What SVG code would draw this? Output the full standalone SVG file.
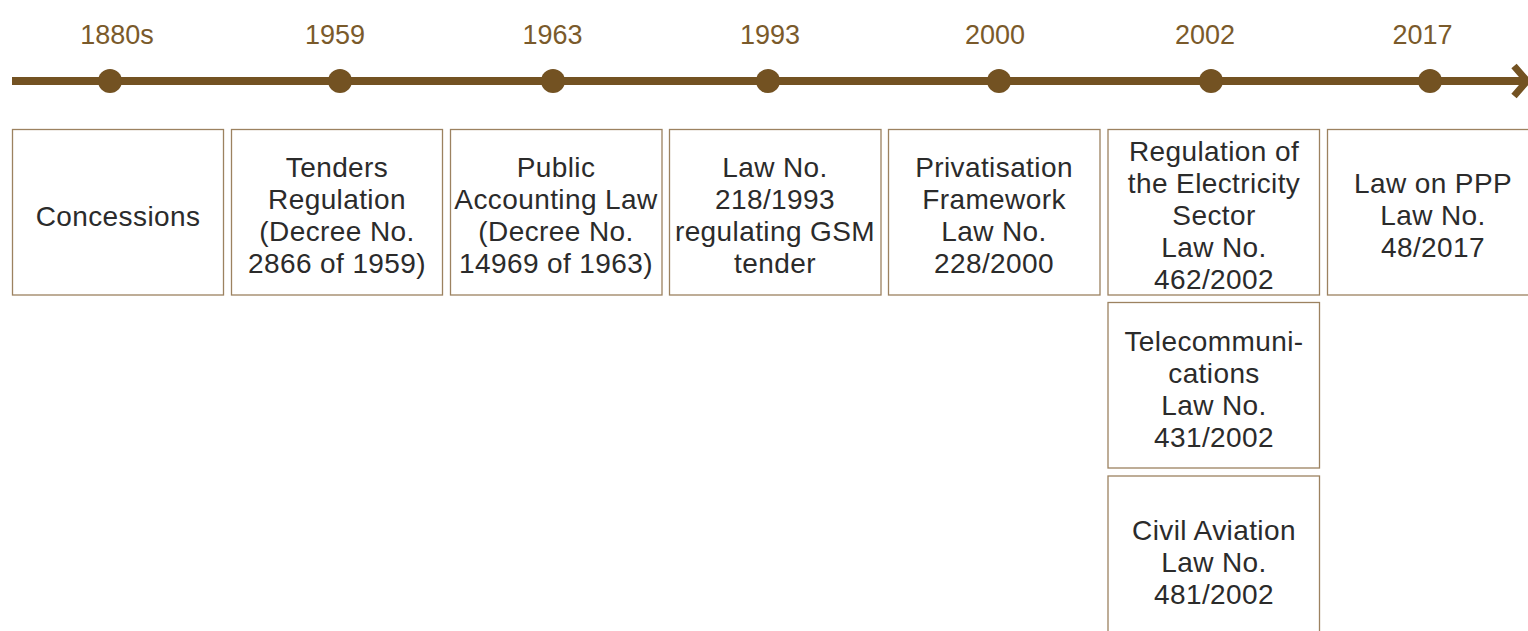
<svg xmlns="http://www.w3.org/2000/svg" width="1528" height="631" viewBox="0 0 1528 631">
<style>
.yr{font-family:"Liberation Sans",Arial,sans-serif;font-size:27px;fill:#7a5a2b;text-anchor:middle}
.box{fill:#ffffff;stroke:#9c8260;stroke-width:1.3}
.t{font-family:"Liberation Sans",Arial,sans-serif;font-size:28px;fill:#2b2b2b;text-anchor:middle;letter-spacing:0.4px}
.dot{fill:#735222}
</style>
<rect width="1528" height="631" fill="#ffffff"/>
<g id="connectors">
<line x1="12" y1="81" x2="1523" y2="81" stroke="#735222" stroke-width="8"/>
<polyline points="1514,66 1527,81 1514,96" fill="none" stroke="#735222" stroke-width="7"/>
</g>
<g id="timeline-dots">
<circle class="dot" cx="110" cy="81" r="12"/>
<circle class="dot" cx="340" cy="81" r="12"/>
<circle class="dot" cx="553" cy="81" r="12"/>
<circle class="dot" cx="768" cy="81" r="12"/>
<circle class="dot" cx="999" cy="81" r="12"/>
<circle class="dot" cx="1211" cy="81" r="12"/>
<circle class="dot" cx="1430" cy="81" r="12"/>
</g>
<g id="years">
<text class="yr" x="117" y="44">1880s</text>
<text class="yr" x="335" y="44">1959</text>
<text class="yr" x="552.5" y="44">1963</text>
<text class="yr" x="770" y="44">1993</text>
<text class="yr" x="995" y="44">2000</text>
<text class="yr" x="1205" y="44">2002</text>
<text class="yr" x="1422.5" y="44">2017</text>
</g>
<g id="node-1880s">
<rect class="box" x="12.5" y="129.5" width="211" height="165.5"/>
<text class="t" x="118" y="226">Concessions</text>
</g>
<g id="node-1959">
<rect class="box" x="231.5" y="129.5" width="211" height="165.5"/>
<text class="t" x="337" y="177.3">Tenders</text>
<text class="t" x="337" y="209.1">Regulation</text>
<text class="t" x="337" y="240.9">(Decree No.</text>
<text class="t" x="337" y="272.7">2866 of 1959)</text>
</g>
<g id="node-1963">
<rect class="box" x="450.5" y="129.5" width="211.5" height="165.5"/>
<text class="t" x="556" y="177.3">Public</text>
<text class="t" x="556" y="209.1">Accounting Law</text>
<text class="t" x="556" y="240.9">(Decree No.</text>
<text class="t" x="556" y="272.7">14969 of 1963)</text>
</g>
<g id="node-1993">
<rect class="box" x="669.5" y="129.5" width="211.5" height="165.5"/>
<text class="t" x="775" y="177.3">Law No.</text>
<text class="t" x="775" y="209.1">218/1993</text>
<text class="t" x="775" y="240.9">regulating GSM</text>
<text class="t" x="775" y="272.7">tender</text>
</g>
<g id="node-2000">
<rect class="box" x="888.5" y="129.5" width="211.5" height="165.5"/>
<text class="t" x="994" y="177.3">Privatisation</text>
<text class="t" x="994" y="209.1">Framework</text>
<text class="t" x="994" y="240.9">Law No.</text>
<text class="t" x="994" y="272.7">228/2000</text>
</g>
<g id="node-2002-electricity">
<rect class="box" x="1108" y="129.5" width="211.5" height="165.5"/>
<text class="t" x="1214" y="161.4">Regulation of</text>
<text class="t" x="1214" y="193.2">the Electricity</text>
<text class="t" x="1214" y="225">Sector</text>
<text class="t" x="1214" y="256.8">Law No.</text>
<text class="t" x="1214" y="288.6">462/2002</text>
</g>
<g id="node-2002-telecom">
<rect class="box" x="1108" y="302.5" width="211.5" height="165.5"/>
<text class="t" x="1214" y="351.3">Telecommuni-</text>
<text class="t" x="1214" y="383.1">cations</text>
<text class="t" x="1214" y="414.9">Law No.</text>
<text class="t" x="1214" y="446.7">431/2002</text>
</g>
<g id="node-2002-aviation">
<rect class="box" x="1108" y="476" width="211.5" height="166"/>
<text class="t" x="1214" y="539.9">Civil Aviation</text>
<text class="t" x="1214" y="571.7">Law No.</text>
<text class="t" x="1214" y="603.5">481/2002</text>
</g>
<g id="node-2017">
<rect class="box" x="1327.5" y="129.5" width="211" height="165.5"/>
<text class="t" x="1433" y="193.2">Law on PPP</text>
<text class="t" x="1433" y="225">Law No.</text>
<text class="t" x="1433" y="256.8">48/2017</text>
</g>
</svg>
